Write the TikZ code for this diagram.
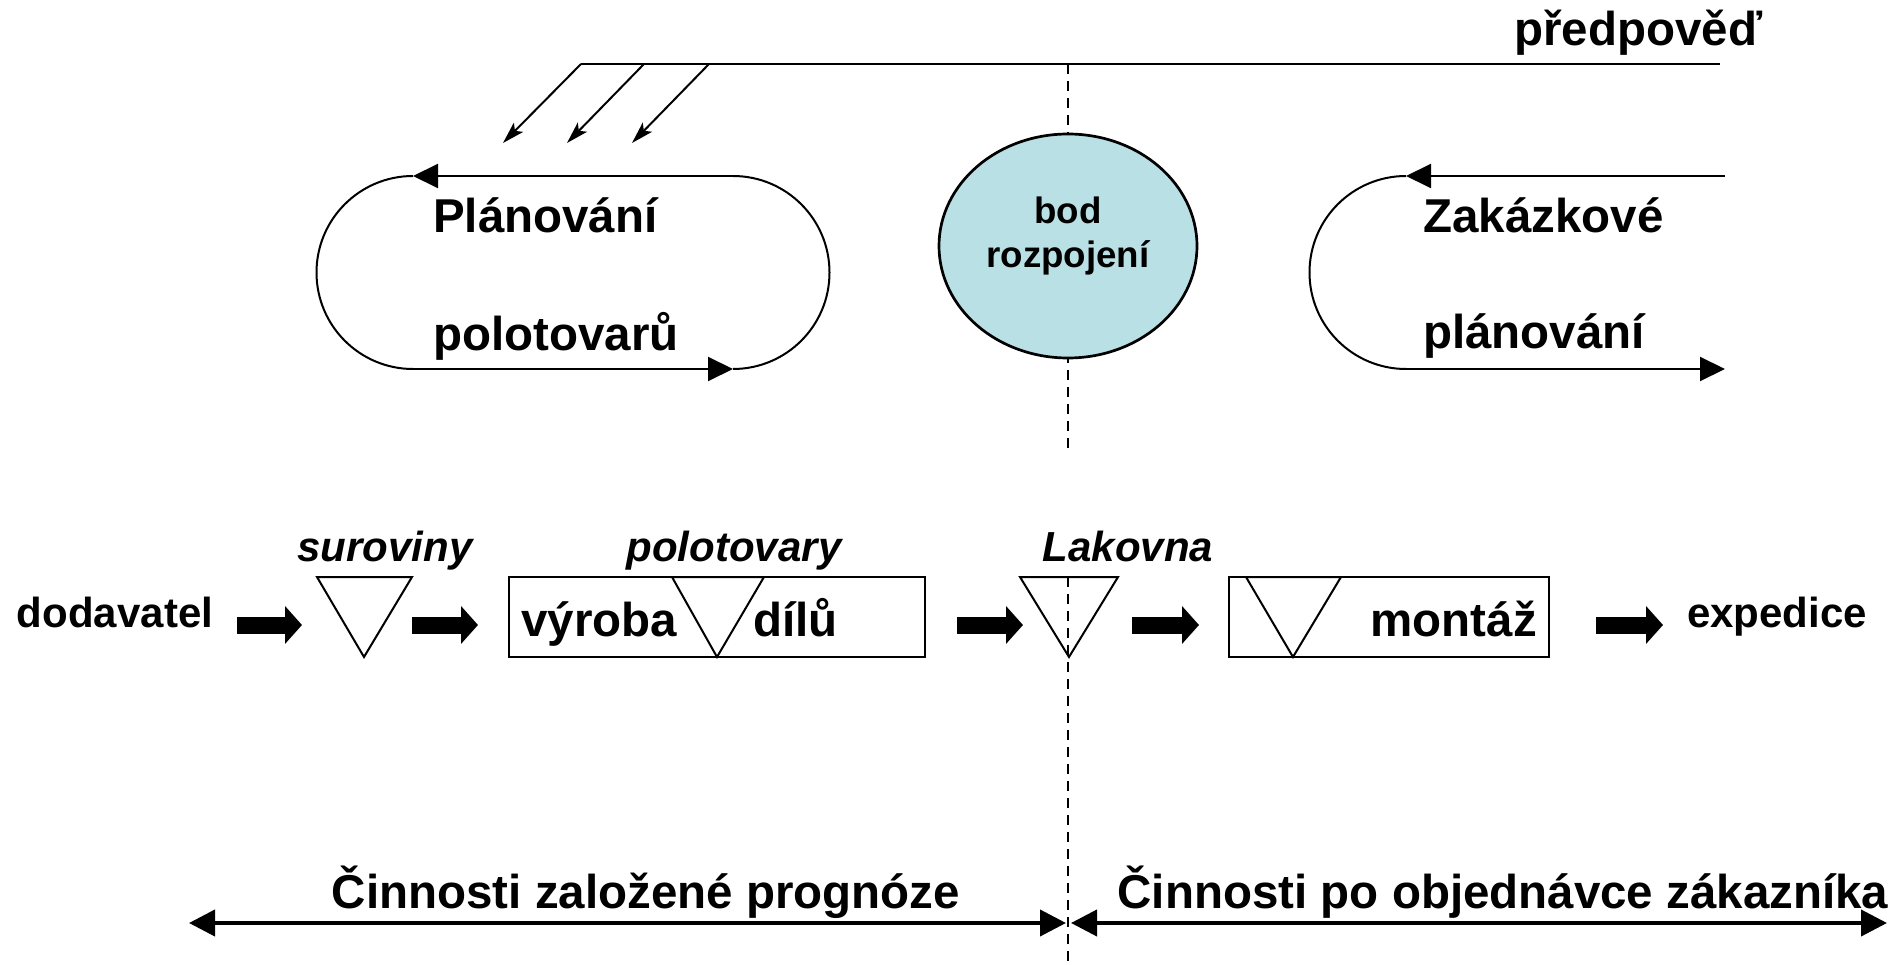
\documentclass[tikz,border=0pt]{standalone}
\usepackage{fontspec}
\setmainfont{Liberation Sans}
\usetikzlibrary{arrows.meta,shapes.geometric}
\definecolor{bodfill}{RGB}{185,224,228}
\begin{document}
\begin{tikzpicture}[x=1pt,y=-1pt,
  thinline/.style={line width=2pt},
  lbl/.style={inner sep=0pt, font=\fontsize{47.5}{50}\selectfont\bfseries},
  smalllbl/.style={inner sep=0pt, font=\fontsize{42}{46}\selectfont\bfseries},
  itlbl/.style={inner sep=0pt, font=\fontsize{42}{46}\selectfont\bfseries\itshape},
  bodlbl/.style={inner sep=0pt, font=\fontsize{36.7}{40}\selectfont\bfseries},
  looparrow/.style={thinline, -{Triangle[length=25pt,width=24pt]}},
  diagarrow/.style={thinline, -{Stealth[length=22pt,width=13pt,inset=5pt]}},
  blockarrow/.style={line width=17pt, -{Triangle[length=17pt,width=37pt]}},
  spanarrow/.style={line width=4pt, {Triangle[length=26pt,width=26pt]}-{Triangle[length=26pt,width=26pt]}},
  cutline/.style={line width=2pt, dash pattern=on 10pt off 7pt},
  stockbox/.style={thinline}
]
\useasboundingbox (0,0) rectangle (1899,965);

% dashed decoupling line
\coordinate (dtop) at (1068,64);
\coordinate (dmid) at (1068,451);
\coordinate (dlow) at (1068,577);
\coordinate (dbot) at (1068,965);
\draw[cutline] (dtop) -- (dmid);
\draw[cutline] (dlow) -- (dbot);

% forecast line
\node[lbl, anchor=base west] (forecast) at (1514,46) {předpověď};
\coordinate (f1) at (581,64);
\coordinate (f2) at (644,64);
\coordinate (f3) at (709,64);
\coordinate (fend) at (1720,64);
\coordinate (g1) at (503,143);
\coordinate (g2) at (567,143);
\coordinate (g3) at (632,143);
\draw[thinline] (f1) -- (fend);
\draw[diagarrow] (f1) -- (g1);
\draw[diagarrow] (f2) -- (g2);
\draw[diagarrow] (f3) -- (g3);

% left planning loop
\coordinate (la) at (413,176);
\coordinate (lb) at (733,176);
\coordinate (lc) at (413,369);
\coordinate (ld) at (733,369);
\draw[looparrow] (lb) -- (la);
\draw[looparrow] (lc) -- (ld);
\draw[thinline] (la) arc[start angle=270, end angle=90, radius=96.5];
\draw[thinline] (ld) arc[start angle=90, end angle=-90, radius=96.5];
\node[lbl, anchor=base west] (plan1) at (433,233) {Plánování};
\node[lbl, anchor=base west] (plan2) at (433,351) {polotovarů};

% decoupling point
\node[ellipse, draw, line width=2.7pt, fill=bodfill, minimum width=258pt, minimum height=224pt, inner sep=0pt] (bod) at (1068,246) {};
\node[bodlbl, anchor=base] (bodt1) at (1068,224) {bod};
\node[bodlbl, anchor=base] (bodt2) at (1068,268) {rozpojení};

% right planning loop
\coordinate (ra) at (1406,176);
\coordinate (rb) at (1725,176);
\coordinate (rc) at (1406,369);
\coordinate (rd) at (1725,369);
\draw[looparrow] (rb) -- (ra);
\draw[looparrow] (rc) -- (rd);
\draw[thinline] (ra) arc[start angle=270, end angle=90, radius=96.5];
\node[lbl, anchor=base west] (zak1) at (1423,233) {Zakázkové};
\node[lbl, anchor=base west] (zak2) at (1423,349) {plánování};

% production row
\node[smalllbl, anchor=base] (dod) at (115,627) {dodavatel};
\node[smalllbl, anchor=base] (exp) at (1777,627) {expedice};

\coordinate (s1) at (317,577);
\coordinate (s2) at (412,577);
\coordinate (s3) at (364,657);
\draw[stockbox] (s1) -- (s2) -- (s3) -- cycle;
\node[itlbl, anchor=base] (sur) at (385,561) {suroviny};

\coordinate (b1a) at (509,577);
\coordinate (b1b) at (925,657);
\draw[stockbox] (b1a) rectangle (b1b);
\coordinate (t1a) at (672,577);
\coordinate (t1b) at (764,577);
\coordinate (t1c) at (717,657);
\draw[stockbox] (t1a) -- (t1b) -- (t1c) -- cycle;
\node[lbl, anchor=base west] (vyr) at (521,636) {výroba};
\node[lbl, anchor=base west] (dil) at (753,636) {dílů};
\node[itlbl, anchor=base] (pol) at (734,561) {polotovary};

\coordinate (k1) at (1020,577);
\coordinate (k2) at (1118,577);
\coordinate (k3) at (1069,657);
\draw[stockbox] (k1) -- (k2) -- (k3) -- cycle;
\node[itlbl, anchor=base] (lak) at (1128,561) {Lakovna};

\coordinate (b2a) at (1229,577);
\coordinate (b2b) at (1549,657);
\draw[stockbox] (b2a) rectangle (b2b);
\coordinate (t2a) at (1246,577);
\coordinate (t2b) at (1341,577);
\coordinate (t2c) at (1293,657);
\draw[stockbox] (t2a) -- (t2b) -- (t2c) -- cycle;
\node[lbl, anchor=base east] (mon) at (1537,636) {montáž};

\coordinate (a1s) at (237,625); \coordinate (a1e) at (302,625);
\coordinate (a2s) at (412,625); \coordinate (a2e) at (478,625);
\coordinate (a3s) at (957,625); \coordinate (a3e) at (1023,625);
\coordinate (a4s) at (1132,625); \coordinate (a4e) at (1199,625);
\coordinate (a5s) at (1596,625); \coordinate (a5e) at (1663,625);
\draw[blockarrow] (a1s) -- (a1e);
\draw[blockarrow] (a2s) -- (a2e);
\draw[blockarrow] (a3s) -- (a3e);
\draw[blockarrow] (a4s) -- (a4e);
\draw[blockarrow] (a5s) -- (a5e);

% bottom spans
\coordinate (p1) at (189,923);
\coordinate (p2) at (1066,923);
\coordinate (p3) at (1071,923);
\coordinate (p4) at (1887,923);
\draw[spanarrow] (p1) -- (p2);
\draw[spanarrow] (p3) -- (p4);
\node[lbl, anchor=base] (forecastact) at (646,908) {Činnosti založené prognóze};
\node[lbl, anchor=base] (orderact) at (1503,908) {Činnosti po objednávce zákazníka};
\end{tikzpicture}
\end{document}
